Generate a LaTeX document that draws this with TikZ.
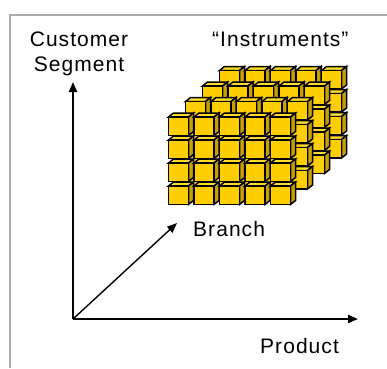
\documentclass[tikz,border=0pt]{standalone}
\usepackage{fontspec}
\setmainfont{Liberation Sans}[LetterSpace=5]
\usetikzlibrary{arrows.meta}

\definecolor{cubefront}{RGB}{255,206,0}
\definecolor{cubetop}{RGB}{255,218,40}
\definecolor{cubeside}{RGB}{200,160,0}
\definecolor{framegray}{RGB}{170,170,170}

\tikzset{
  label/.style={inner sep=0pt, font=\fontsize{21}{25}\selectfont},
  axis/.style={line width=2pt, -{Triangle[length=10pt,width=8pt]}},
  depthaxis/.style={line width=1.4pt, -{Triangle[length=10pt,width=8pt]}},
  facepath/.style={draw=black, line width=1.5pt, line join=miter},
  % one small cube: origin at the top-left corner of its front face
  gcube/.pic={
    \filldraw[facepath, fill=cubetop]  (0,0) -- (5,-4) -- (25,-4) -- (20,0) -- cycle;
    \filldraw[facepath, fill=cubeside] (20,0) -- (25,-4) -- (25,14.5) -- (20,18.5) -- cycle;
    \filldraw[facepath, fill=cubefront] (0,0) rectangle (20,18.5);
  }
}

\begin{document}
\begin{tikzpicture}[x=1pt,y=-1pt]
  \useasboundingbox (0,0) rectangle (387,368);
  \fill[white] (0,0) rectangle (387,368);

  % panel border (top and left edges)
  \draw[framegray, line width=2pt] (9.5,368) -- (9.5,15) -- (387,15);

  % block of cubes: 4 layers deep, 4 rows, 5 columns; back layer first
  \foreach \l in {3,2,1,0} {
    \foreach \r in {3,2,1,0} {
      \foreach \c in {0,...,4} {
        \pic at ({168.5+17*\l+25.5*\c},{117-15.5*\l+23*\r}) {gcube};
      }
    }
  }

  % axes
  \coordinate (O) at (73,319);
  \coordinate (Ytip) at (73,82);
  \coordinate (Xtip) at (358,319);
  \coordinate (Ztip) at (177,223);
  \draw[axis] (O) -- (Ytip);
  \draw[axis] (O) -- (Xtip);
  \draw[depthaxis] (O) -- (Ztip);

  % labels
  \node[label, align=center, anchor=north] (segment) at (79,31.5) {Customer\\Segment};
  \node[label, anchor=base west] (instr) at (212,46) {“Instruments”};
  \node[label, anchor=base west] (branch) at (193,236) {Branch};
  \node[label, anchor=base west] (product) at (260,353) {Product};
\end{tikzpicture}
\end{document}
